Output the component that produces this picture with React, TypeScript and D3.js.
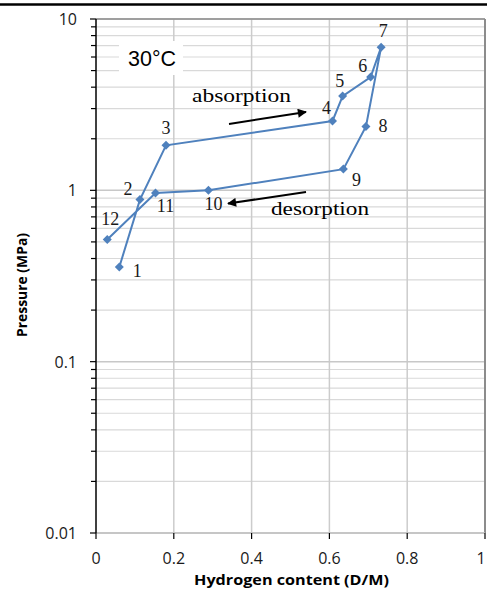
import React from "react";
import * as d3 from "d3";

const W = 487;
const H = 590;

const pointLabels = ["1", "2", "3", "4", "5", "6", "7", "8", "9", "10", "11", "12"];
const contentDM = [0.06, 0.113, 0.18, 0.608, 0.634, 0.706, 0.733, 0.694, 0.636, 0.289, 0.153, 0.029];
const pressureMPa = [0.357, 0.883, 1.83, 2.54, 3.55, 4.58, 6.85, 2.36, 1.33, 1.0, 0.965, 0.516];
// label offsets relative to each point (dx, dy) in px
const labelDx = [18, -12, 0, -6, -3, -8, 2, 17, 13, 5, 10, 3];
const labelDy = [4, -11, -17, -13, -15, -11, -16, 0, 11, 14, 13, -21];

const xTicks = [0, 0.2, 0.4, 0.6, 0.8, 1];
const xTickLabels = ["0", "0.2", "0.4", "0.6", "0.8", "1"];
const yTicks = [0.01, 0.1, 1, 10];
const yTickLabels = ["0.01", "0.1", "1", "10"];

export default function App() {
  const left = 96, right = 485, top = 19, bottom = 533;
  const x = d3.scaleLinear().domain([0, 1]).range([left, right]);
  const y = d3.scaleLog().domain([0.01, 10]).range([bottom, top]);

  const minor: number[] = [];
  [0.01, 0.1, 1].forEach((dec) => {
    for (let k = 2; k <= 9; k++) minor.push(dec * k);
  });

  const line = d3
    .line<number>()
    .x((_, i) => x(contentDM[i]))
    .y((_, i) => y(pressureMPa[i]));

  const blue = "#4f81bd";
  const serif = "'Liberation Serif', 'Times New Roman', serif";
  const sans = "'Open Sans', 'Liberation Sans', sans-serif";

  return (
    <svg width={W} height={H} style={{ position: "absolute", left: 0, top: 0, background: "#fff" }}>
      <defs>
        <marker id="ah" viewBox="0 0 10 10" refX="9" refY="5" markerWidth="12" markerHeight="9" orient="auto" markerUnits="userSpaceOnUse">
          <path d="M0,0 L10,5 L0,10 z" fill="#000" />
        </marker>
      </defs>
      <rect x={0} y={0} width={W} height={H} fill="#fff" />
      <line x1={0} x2={W} y1={4.5} y2={4.5} stroke="#000" strokeWidth={2.6} />

      {/* minor horizontal gridlines */}
      {minor.map((v) => (
        <line key={"m" + v} x1={left} x2={right} y1={y(v)} y2={y(v)} stroke="#d9d9d9" strokeWidth={1.2} />
      ))}
      {/* vertical gridlines */}
      {xTicks.slice(1, -1).map((v) => (
        <line key={"v" + v} x1={x(v)} x2={x(v)} y1={top} y2={bottom} stroke="#cccccc" strokeWidth={1.5} />
      ))}
      {/* major horizontal */}
      {yTicks.map((v) => (
        <line key={"M" + v} x1={left} x2={right} y1={y(v)} y2={y(v)} stroke="#c8c8c8" strokeWidth={1.5} />
      ))}
      {/* borders */}
      <line x1={left} x2={right} y1={top} y2={top} stroke="#8c8c8c" strokeWidth={1.5} />
      <line x1={right} x2={right} y1={top} y2={bottom} stroke="#8c8c8c" strokeWidth={2} />
      <line x1={left} x2={right} y1={bottom} y2={bottom} stroke="#c0c0c0" strokeWidth={1.5} />

      {/* 30C label box */}
      <rect x={119} y={41} width={64} height={34} fill="#fff" />
      <text x={152} y={58} textAnchor="middle" dominantBaseline="central" fontFamily="'Liberation Sans', Arial, sans-serif" fontSize={22} textLength={48} lengthAdjust="spacingAndGlyphs">
        30°C
      </text>

      {/* left axis */}
      <line x1={left} x2={left} y1={top} y2={bottom} stroke="#000" strokeWidth={1.5} />
      {minor.map((v) => (
        <line key={"t" + v} x1={left - 5} x2={left} y1={y(v)} y2={y(v)} stroke="#000" strokeWidth={1.2} />
      ))}
      {yTicks.map((v) => (
        <line key={"T" + v} x1={left - 6} x2={left} y1={y(v)} y2={y(v)} stroke="#000" strokeWidth={1.2} />
      ))}
      {yTicks.map((v, i) => (
        <text key={"yl" + v} x={77} y={y(v)} textAnchor="end" dominantBaseline="central" fontFamily={sans} fontSize={16} fill="#1a1a1a">
          {yTickLabels[i]}
        </text>
      ))}
      {/* bottom ticks */}
      {xTicks.map((v, i) => (
        <g key={"xl" + v}>
          <line x1={x(v)} x2={x(v)} y1={bottom} y2={bottom + 6} stroke="#000" strokeWidth={1.2} />
          <text x={Math.min(x(v), 481)} y={558} textAnchor="middle" dominantBaseline="central" fontFamily={sans} fontSize={16} fill="#1a1a1a">
            {xTickLabels[i]}
          </text>
        </g>
      ))}

      <text x={291.5} y={579} textAnchor="middle" dominantBaseline="central" fontFamily={sans} fontWeight="bold" fontSize={14} textLength={195} lengthAdjust="spacingAndGlyphs">
        Hydrogen content (D/M)
      </text>
      <text transform="translate(21,285) rotate(-90)" textAnchor="middle" dominantBaseline="central" fontFamily={sans} fontWeight="bold" fontSize={15} textLength={104} lengthAdjust="spacingAndGlyphs">
        Pressure (MPa)
      </text>

      {/* series */}
      <path d={line(contentDM) || ""} fill="none" stroke={blue} strokeWidth={2} />
      {contentDM.map((v, i) => {
        const cx = x(v), cy = y(pressureMPa[i]);
        const s = 4.5;
        return (
          <path key={"p" + i} d={`M${cx},${cy - s} L${cx + s},${cy} L${cx},${cy + s} L${cx - s},${cy} Z`} fill={blue} />
        );
      })}
      {contentDM.map((v, i) => (
        <text key={"lab" + i} x={x(v) + labelDx[i]} y={y(pressureMPa[i]) + labelDy[i]} textAnchor="middle" dominantBaseline="central" fontFamily={serif} fontSize={18} fill="#1a1a1a">
          {pointLabels[i]}
        </text>
      ))}

      {/* annotations */}
      <text x={192} y={102} fontFamily={serif} fontSize={19} textLength={99} lengthAdjust="spacingAndGlyphs">absorption</text>
      <line x1={229} y1={124} x2={306} y2={112} stroke="#000" strokeWidth={2} markerEnd="url(#ah)" />
      <text x={271} y={215} fontFamily={serif} fontSize={19} textLength={98} lengthAdjust="spacingAndGlyphs">desorption</text>
      <line x1={306} y1={192} x2={228} y2={203.5} stroke="#000" strokeWidth={2} markerEnd="url(#ah)" />
    </svg>
  );
}
